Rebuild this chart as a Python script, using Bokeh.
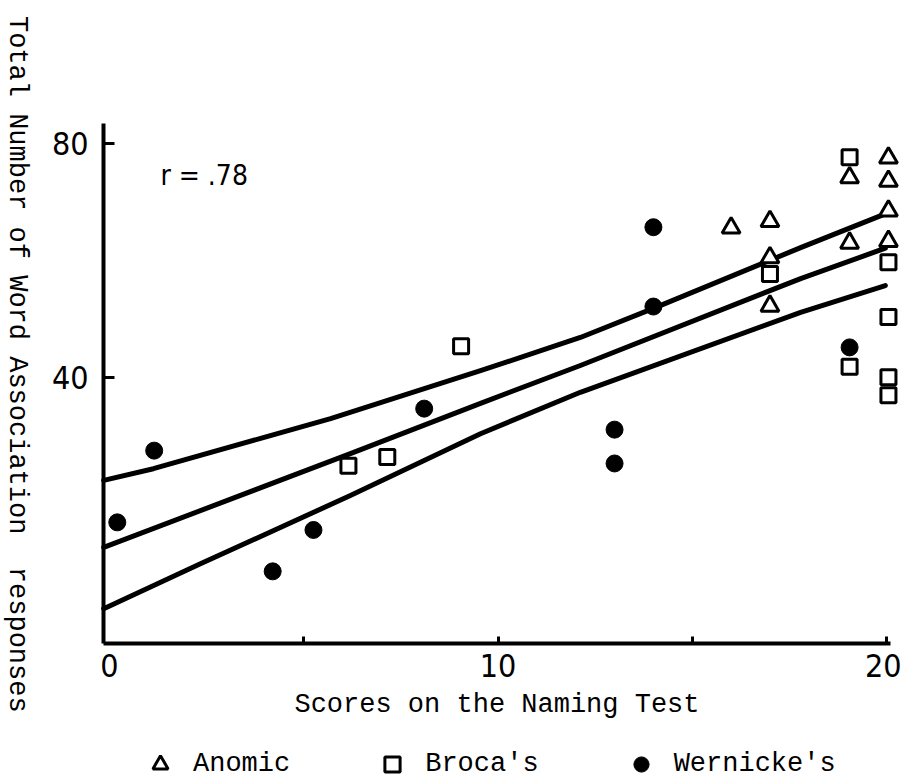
import math

from bokeh.plotting import figure
from bokeh.models import Range1d, FixedTicker, Label, Legend, LegendItem
from bokeh.embed import file_html
from bokeh.resources import INLINE

# Naming-test score (x) and total word-association responses (y) per patient group
anomic_x = [16.0, 17.0, 17.0, 17.0, 19.05, 19.05, 20.05, 20.05, 20.05, 20.05]
anomic_y = [65.6, 66.7, 60.5, 52.2, 74.2, 63.0, 77.6, 73.6, 68.5, 63.3]

broca_x = [6.15, 7.15, 9.05, 17.0, 19.05, 19.05, 20.05, 20.05, 20.05, 20.05]
broca_y = [24.8, 26.3, 45.3, 57.7, 77.7, 41.8, 59.7, 50.3, 40.0, 36.9]

wernicke_x = [0.2, 1.15, 4.2, 5.25, 8.1, 13.0, 13.0, 14.0, 14.0, 19.05]
wernicke_y = [15.1, 27.4, 6.7, 13.8, 34.6, 31.0, 25.2, 65.7, 52.1, 45.1]

# regression line and its confidence band
fit_x = [-0.15, 6.2, 9.55, 12.12, 17.79, 19.97]
fit_y = [10.8, 26.9, 35.5, 42.0, 56.9, 62.1]
upper_x = [-0.15, 1.13, 3.89, 5.69, 9.55, 12.12, 14.0, 17.79, 20.05]
upper_y = [22.3, 24.3, 29.5, 32.9, 41.1, 46.8, 51.8, 62.2, 68.2]
lower_x = [-0.15, 2.34, 6.2, 9.55, 12.12, 17.79, 19.97]
lower_y = [0.3, 8.0, 19.7, 30.3, 37.4, 51.1, 55.7]

x_ticks = [0, 10, 20]
x_minor = [5, 10, 15, 20]
y_ticks = [40, 80]
r_text = "r = .78"
x_title = "Scores on the Naming Test"
# non-breaking spaces keep the wider gap before "responses"
y_title = "Total Number of Word Association\u00a0\u00a0responses"

# axis extents (data units)
X_LO, X_HI = -0.154, 20.1
Y_LO, Y_HI = -5.67, 83.5

TICK_FONT = "DejaVu Sans Condensed, Roboto, sans-serif"
MONO = "Liberation Mono"
MONO_SIZE = "27px"

p = figure(
    width=901, height=778,
    x_range=Range1d(-2.806, 20.386), y_range=Range1d(-28.81, 104.57),
    output_backend="svg", toolbar_location=None,
    min_border=0,
)
p.title.visible = False
p.outline_line_color = None
p.xgrid.visible = False
p.ygrid.visible = False
p.background_fill_color = "white"
p.border_fill_color = "white"

# x axis, pinned at the bottom of the data area
xa = p.xaxis[0]
xa.fixed_location = Y_LO
xa.bounds = (X_LO, X_HI)
xa.ticker = FixedTicker(ticks=x_ticks, minor_ticks=x_minor)
xa.axis_line_width = 4
xa.axis_line_color = "black"
xa.major_tick_in = 0
xa.major_tick_out = 0
xa.minor_tick_in = 7
xa.minor_tick_out = 0
xa.minor_tick_line_width = 3
xa.minor_tick_line_color = "black"
xa.major_label_text_font = TICK_FONT
xa.major_label_text_font_size = "32px"
xa.major_label_text_color = "black"
xa.major_label_standoff = 10
xa.axis_label = x_title
xa.axis_label_text_font = MONO
xa.axis_label_text_font_size = MONO_SIZE
xa.axis_label_text_font_style = "normal"
xa.axis_label_text_color = "black"
xa.axis_label_standoff = 10

# y axis, pinned at the left of the data area
ya = p.yaxis[0]
ya.fixed_location = X_LO
ya.bounds = (Y_LO, Y_HI)
ya.ticker = FixedTicker(ticks=y_ticks, minor_ticks=[])
ya.axis_line_width = 4
ya.axis_line_color = "black"
ya.major_tick_in = 11
ya.major_tick_out = 0
ya.major_tick_line_width = 3
ya.major_tick_line_color = "black"
ya.minor_tick_in = 0
ya.minor_tick_out = 0
ya.major_label_text_font = TICK_FONT
ya.major_label_text_font_size = "32px"
ya.major_label_text_color = "black"
ya.major_label_standoff = 15

# regression line and band
for xs, ys in ((upper_x, upper_y), (fit_x, fit_y), (lower_x, lower_y)):
    p.line(xs, ys, line_color="black", line_width=5, line_cap="round", line_join="round")

# patient groups
r_anomic = p.scatter(anomic_x, anomic_y, marker="triangle", size=18,
                     fill_color="white", line_color="black", line_width=3)
r_broca = p.scatter(broca_x, broca_y, marker="square", size=15,
                    fill_color="white", line_color="black", line_width=3)
r_wern = p.scatter(wernicke_x, wernicke_y, marker="circle", size=17,
                   fill_color="black", line_color="black", line_width=1)

# correlation note
p.add_layout(Label(x=1.31, y=74.6, text=r_text, text_font=TICK_FONT,
                   text_font_size="28px", text_color="black",
                   text_baseline="alphabetic", text_align="left"))

# vertical title reading top to bottom
p.add_layout(Label(x=-2.37, y=42.2, text=y_title,
                   angle=-math.pi / 2, text_font=MONO, text_font_size=MONO_SIZE,
                   text_color="black", text_align="center", text_baseline="middle"))

legend = Legend(
    items=[
        LegendItem(label="Anomic", renderers=[r_anomic]),
        LegendItem(label="Broca's", renderers=[r_broca]),
        LegendItem(label="Wernicke's", renderers=[r_wern]),
    ],
    orientation="horizontal",
    location=(141, -5),
    glyph_width=38, glyph_height=38,
    label_standoff=14, spacing=83, padding=0, margin=0,
    label_text_font=MONO, label_text_font_size=MONO_SIZE, label_text_color="black",
    border_line_color=None, background_fill_alpha=0,
)
p.add_layout(legend)

open("out.html", "w").write(file_html(p, INLINE))
